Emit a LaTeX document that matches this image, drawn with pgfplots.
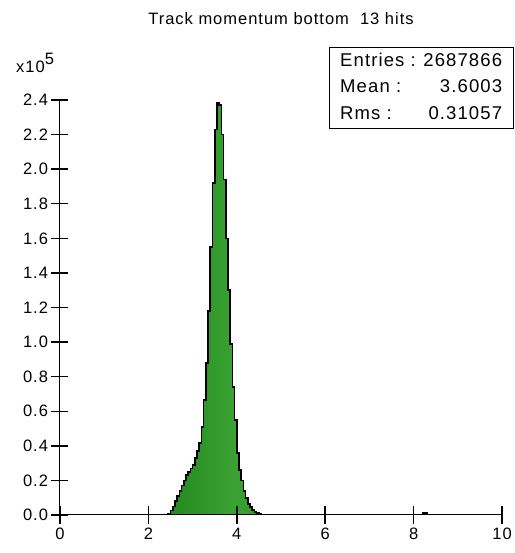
\documentclass[border=0pt]{standalone}
\usepackage{fontspec}
\setmainfont{Liberation Sans}
\newfontfamily\plotfont[LetterSpace=6]{Liberation Sans}
\usepackage{pgfplots}
\usepackage{pgfplotstable}
\pgfplotsset{compat=1.18}

\definecolor{gdark}{RGB}{12,108,12}
\definecolor{glight}{RGB}{58,162,50}

% Track momentum histogram, bin width 0.05, counts in units of 10^5
% (left bin edge, height); the last row closes the final bin
\pgfplotstableread{
x     y
0.90  0.003
0.95  0.003
1.00  0.003
1.05  0.003
1.10  0.003
1.15  0.003
1.20  0.003
1.25  0.003
1.30  0.003
1.35  0.003
1.40  0.003
1.45  0.003
1.50  0.003
1.55  0.003
1.60  0.003
1.65  0.003
1.70  0.003
1.75  0.003
1.80  0.003
1.85  0.003
1.90  0.003
1.95  0.003
2.00  0.003
2.05  0.003
2.10  0.003
2.15  0.003
2.20  0.003
2.25  0.003
2.30  0.003
2.35  0.003
2.40  0.004
2.45  0.008
2.50  0.025
2.55  0.05
2.60  0.08
2.65  0.11
2.70  0.14
2.75  0.17
2.80  0.20
2.85  0.23
2.90  0.25
2.95  0.27
3.00  0.29
3.05  0.33
3.10  0.37
3.15  0.415
3.20  0.51
3.25  0.665
3.30  0.88
3.35  1.18
3.40  1.55
3.45  1.92
3.50  2.23
3.55  2.385
3.60  2.37
3.65  2.20
3.70  1.94
3.75  1.60
3.80  1.30
3.85  0.99
3.90  0.74
3.95  0.55
4.00  0.36
4.05  0.26
4.10  0.20
4.15  0.14
4.20  0.10
4.25  0.065
4.30  0.045
4.35  0.028
4.40  0.018
4.45  0.011
4.50  0.007
4.55  0.004
4.60  0.003
4.65  0.003
4.70  0.003
4.75  0.003
4.80  0.003
4.85  0.003
4.90  0.003
4.95  0.003
5.00  0.003
5.05  0.003
5.10  0.003
5.15  0.003
5.20  0.003
5.25  0.003
5.30  0.003
5.35  0.003
5.40  0.003
5.45  0.003
5.50  0.003
5.55  0.003
5.60  0.003
5.65  0.003
5.70  0.003
5.75  0.003
5.80  0.003
5.85  0.003
5.90  0.003
5.95  0.003
6.00  0.003
6.05  0.003
6.10  0.003
6.15  0.003
6.20  0.003
6.25  0.003
6.30  0.003
6.35  0.003
6.40  0.003
6.45  0.003
6.50  0.003
6.55  0.003
6.60  0.003
6.65  0.003
6.70  0.003
6.75  0.003
6.80  0.003
6.85  0.003
6.90  0.003
6.95  0.003
7.00  0
}\mainbins

% isolated entries further out
\pgfplotstableread{
x     y
8.20  0.010
8.25  0.010
8.30  0
}\tailbins

\begin{document}
\begin{tikzpicture}
\path[use as bounding box] (-60pt,-38pt) rectangle (454pt,515pt);
\begin{axis}[
  at={(0pt,0pt)}, anchor=south west,
  scale only axis, width=442pt, height=415pt,
  xmin=0, xmax=10, ymin=0, ymax=2.4,
  axis x line*=bottom, axis y line*=left,
  xtick pos=left, ytick pos=left,
  axis line style={-, black, line width=1pt},
  axis on top,
  tick align=center, major tick length=17pt,
  xtick style={black, line width=1.7pt},
  ytick style={black, line width=1.4pt},
  xtick={0,2,4,6,8,10},
  ytick={0,0.2,0.4,0.6,0.8,1.0,1.2,1.4,1.6,1.8,2.0,2.2,2.4},
  /pgf/number format/assume math mode=true,
  yticklabel style={/pgf/number format/.cd, fixed, fixed zerofill, precision=1},
  xticklabel style={yshift=-1pt},
  ticklabel style={font=\plotfont\fontsize{16.5}{19}\selectfont, black},
  clip=false,
]
\addplot[ybar interval, draw=none, left color=gdark, right color=gdark, middle color=glight]
  table[x=x, y=y] {\mainbins};
\addplot[const plot, black, line width=1.6pt] table[x=x, y=y] {\mainbins};
\addplot[ybar interval, draw=none, fill=gdark] table[x=x, y=y] {\tailbins};
\addplot[const plot, black, line width=1.6pt] table[x=x, y=y] {\tailbins};
\end{axis}

% title
\node[anchor=base, font=\plotfont\fontsize{16.5}{19}\selectfont] at (221pt,490pt)
  {Track momentum bottom\ \ 13 hits};
% y scale factor
\node[anchor=base west, inner sep=0pt, font=\plotfont\fontsize{16.5}{19}\selectfont]
  at (-44pt,442pt) {x10\raisebox{8pt}{5}};
% statistics box
\draw[black, line width=1pt, fill=white] (269.3pt,386.7pt) rectangle (453pt,467.7pt);
\begin{scope}[every node/.style={inner sep=0pt, font=\plotfont\fontsize{18.5}{21}\selectfont}]
\node[anchor=base west] at (280pt,448.3pt) {Entries :};
\node[anchor=base east] at (442.3pt,448.3pt) {2687866};
\node[anchor=base west] at (280pt,422.2pt) {Mean :};
\node[anchor=base east] at (442.3pt,422.2pt) {3.6003};
\node[anchor=base west] at (280pt,395.9pt) {Rms :};
\node[anchor=base east] at (442.3pt,395.9pt) {0.31057};
\end{scope}
\end{tikzpicture}
\end{document}
